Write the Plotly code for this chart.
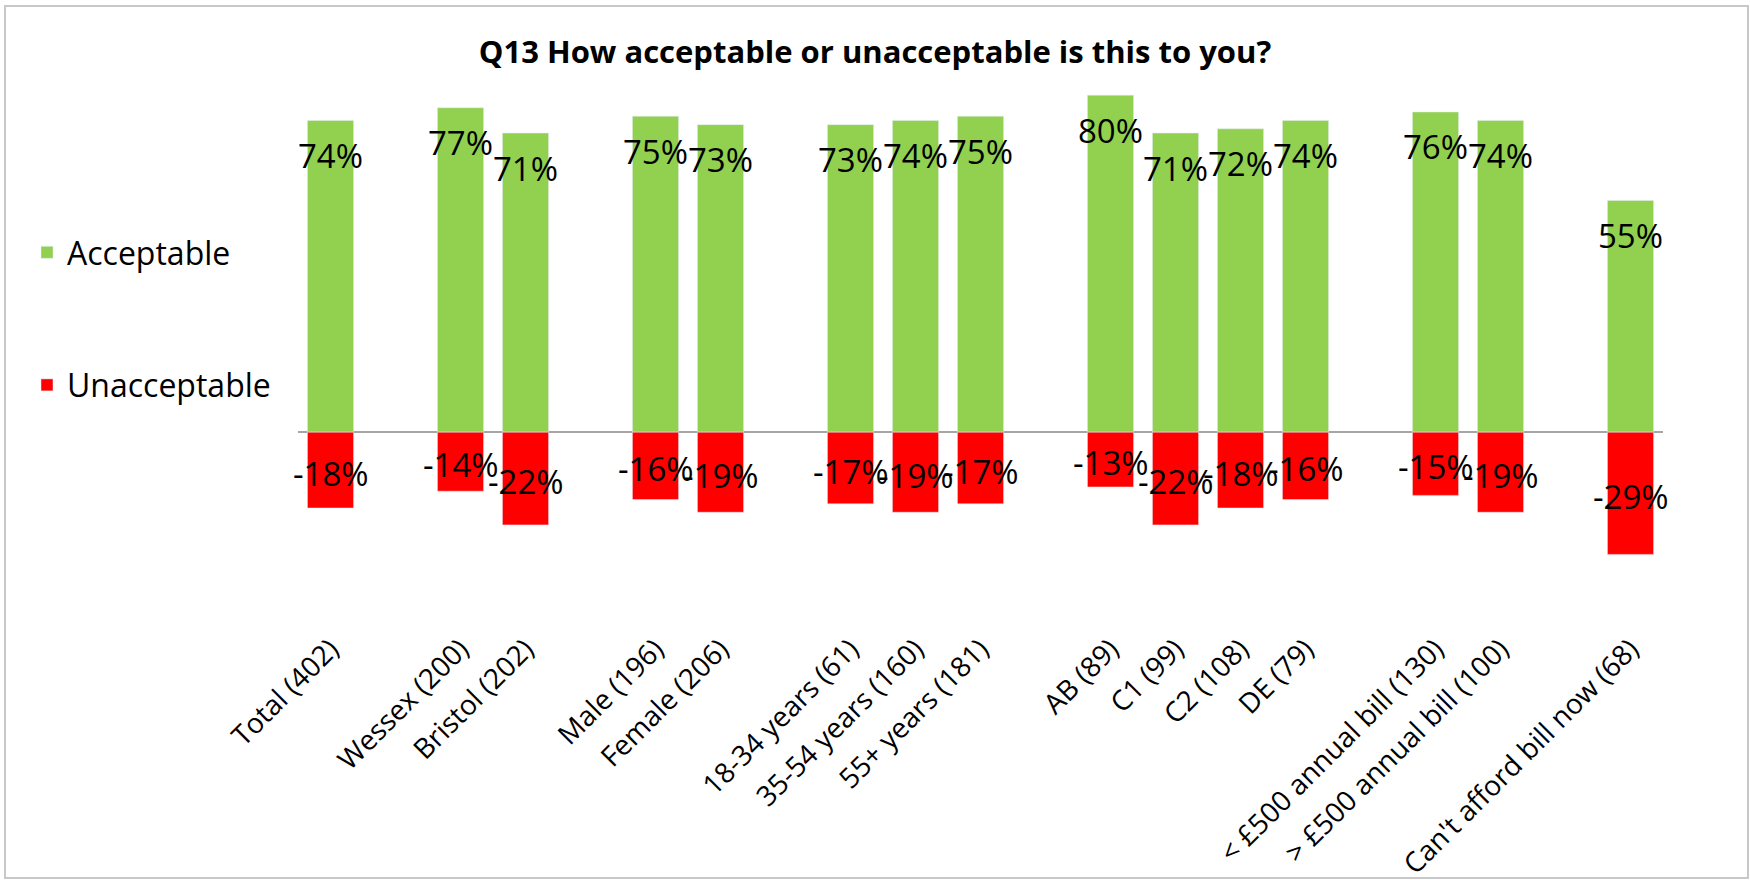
import plotly.graph_objects as go

# Survey breakdown groups (a blank slot separates each group on the axis)
groups = [
    ["Total (402)"],
    ["Wessex (200)", "Bristol (202)"],
    ["Male (196)", "Female (206)"],
    ["18-34 years (61)", "35-54 years (160)", "55+ years (181)"],
    ["AB (89)", "C1 (99)", "C2 (108)", "DE (79)"],
    ["< £500 annual bill (130)", "> £500 annual bill (100)"],
    ["Can't afford bill now (68)"],
]

acceptable = [74, 77, 71, 75, 73, 73, 74, 75, 80, 71, 72, 74, 76, 74, 55]
unacceptable = [-18, -14, -22, -16, -19, -17, -19, -17, -13, -22, -18, -16, -15, -19, -29]

# Slot positions: consecutive within a group, one empty slot between groups
categories, xpos = [], []
slot = 0
for g in groups:
    for name in g:
        categories.append(name)
        xpos.append(slot)
        slot += 1
    slot += 1
n_slots = slot - 1

FONT = "Open Sans"
GREEN = "#92D050"
RED = "#FF0000"

fig = go.Figure()
fig.add_trace(go.Bar(
    x=xpos, y=acceptable, name="Acceptable", marker_color=GREEN,
    width=0.71, legendgroup="a",
))
fig.add_trace(go.Bar(
    x=xpos, y=unacceptable, name="Unacceptable", marker_color=RED,
    width=0.71, legendgroup="u",
))

# Value labels
annotations = []
for x, v in zip(xpos, acceptable):
    annotations.append(dict(
        x=x, y=v, text=f"{v}%", showarrow=False, yshift=-35,
        xanchor="center", yanchor="middle",
        font=dict(family=FONT, size=33, color="black"),
    ))
for x, v in zip(xpos, unacceptable):
    annotations.append(dict(
        x=x, y=v / 2, text=f"{v}%", showarrow=False, yshift=-3,
        xanchor="center", yanchor="middle",
        font=dict(family=FONT, size=33, color="black"),
    ))

L, R, T, B = 298, 87, 53, 254
W, H = 1750, 880
pw = W - L - R
ph = H - T - B

def px_x(p):
    return (p - L) / pw

def px_y(p):
    return (H - B - p) / ph

fig.update_layout(
    width=W, height=H,
    margin=dict(l=L, r=R, t=T, b=B, autoexpand=False),
    paper_bgcolor="white", plot_bgcolor="white",
    barmode="relative",
    font=dict(family=FONT, color="black"),
    title=dict(
        text="<b>Q13 How acceptable or unacceptable is this to you?</b>",
        x=0.5, xref="container", xanchor="center",
        y=1 - 52 / H, yref="container", yanchor="middle",
        font=dict(family=FONT, size=31, color="black"),
    ),
    xaxis=dict(
        range=[-0.5, n_slots - 0.5], automargin=False,
        tickmode="array", tickvals=xpos, ticktext=categories,
        tickangle=-45, tickfont=dict(family=FONT, size=28, color="black"),
        showgrid=False, zeroline=False, showline=False, ticks="",
    ),
    yaxis=dict(
        range=[-46, 90], visible=True, showticklabels=False, automargin=False,
        showgrid=False, zeroline=True, zerolinecolor="#A6A6A6",
        zerolinewidth=2, showline=False, ticks="",
    ),
    legend=dict(
        x=px_x(27), y=px_y(225), xanchor="left", yanchor="top",
        traceorder="grouped", tracegroupgap=88,
        font=dict(family=FONT, size=32, color="black"),
        bgcolor="rgba(0,0,0,0)",
    ),
    annotations=annotations,
    shapes=[dict(
        type="rect", xref="paper", yref="paper",
        x0=px_x(5), x1=px_x(1748), y0=px_y(878), y1=px_y(6),
        line=dict(color="#C8C8C8", width=2), fillcolor="rgba(0,0,0,0)",
        layer="below",
    )],
)

fig.write_html("out.html")
